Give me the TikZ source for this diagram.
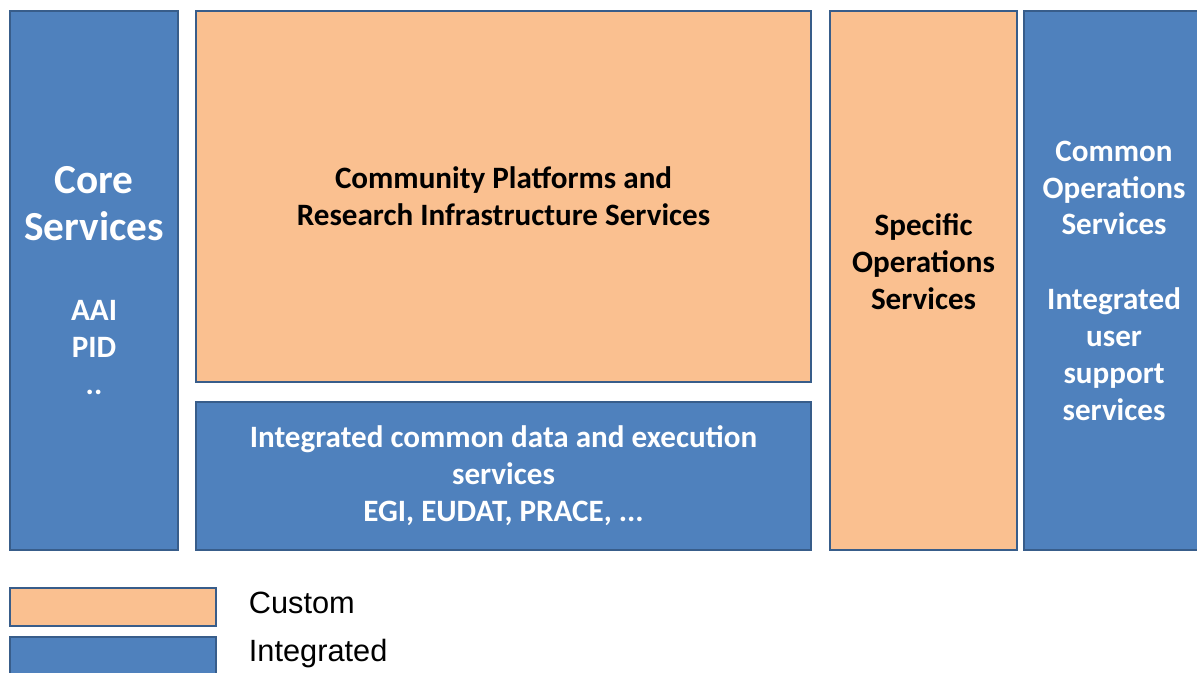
\documentclass[tikz,border=0pt]{standalone}
\usepackage{fontspec}
\setmainfont{Carlito}
\newfontfamily\legendfont{Liberation Sans}
\definecolor{intblue}{HTML}{4F81BD}
\definecolor{custorange}{HTML}{FAC090}
\definecolor{edgeblue}{HTML}{385D8A}
\newcommand{\bigcore}{\fontsize{23.5}{28}\selectfont}
\begin{document}
\begin{tikzpicture}[line width=1.2pt, int box/.style={rectangle,draw=edgeblue,fill=intblue,anchor=north west,inner sep=0pt,text=white,align=center,font=\bfseries\fontsize{17.7}{21}\selectfont}, cust box/.style={int box,fill=custorange,text=black}]%
\useasboundingbox (0,0) rectangle (23.94,-13.44);
\begin{scope}
\node[int box, minimum width=3.36cm, minimum height=10.78cm] (core) at (0.18,-0.2) {{\bigcore Core}\\[0.2cm]{\bigcore Services}\\[0.85cm]AAI\\PID\\..};
\node[cust box, minimum width=12.3cm, minimum height=7.42cm] (community) at (3.9,-0.2) {Community Platforms and\\Research Infrastructure Services};
\node[int box, minimum width=12.3cm, minimum height=2.96cm] (common data) at (3.9,-8.02) {Integrated common data and execution\\services\\EGI, EUDAT, PRACE, ...};
\node[cust box, minimum width=3.74cm, minimum height=10.78cm] (specific) at (16.58,-0.2) {};
\node[int box, minimum width=3.6cm, minimum height=10.78cm] (common ops) at (20.46,-0.2) {Common\\Operations\\Services\\[0.75cm]Integrated\\user\\support\\services};
\node[font=\bfseries\fontsize{17.7}{21}\selectfont, align=center] (specific text) at ([yshift=0.38cm]specific.center) {Specific\\Operations\\Services};
\end{scope}
\begin{scope}[every node/.style={font=\legendfont\fontsize{17.5}{21}\selectfont}]
\node[cust box, minimum width=4.12cm, minimum height=0.76cm] (custom key) at (0.18,-11.74) {};
\node[int box, minimum width=4.12cm, minimum height=0.8cm] (integrated key) at (0.18,-12.72) {};
\node[anchor=west] (custom label) at (4.84,-12.06) {Custom};
\node[anchor=west] (integrated label) at (4.84,-13.08) {Integrated};
\end{scope}
\end{tikzpicture}
\end{document}
